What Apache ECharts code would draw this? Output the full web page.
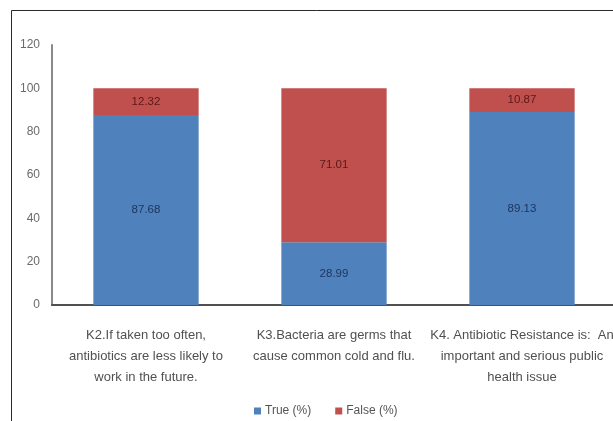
<!DOCTYPE html>
<html>
<head>
<meta charset="utf-8">
<script src="https://cdn.jsdelivr.net/npm/echarts@6/dist/echarts.min.js"></script>
<style>
  html, body { margin: 0; padding: 0; background: #fff; overflow: hidden; }
  #chart { width: 620px; height: 421px; }
</style>
</head>
<body>
<div id="chart"></div>
<script>
// Knowledge statements (line breaks follow the wrapped axis labels)
const categories = [
  'K2.If taken too often,\nantibiotics are less likely to\nwork in the future.',
  'K3.Bacteria are germs that\ncause common cold and flu.',
  'K4. Antibiotic Resistance is:  An\nimportant and serious public\nhealth issue'
];
const trueValues = [87.68, 28.99, 89.13];
const falseValues = [12.32, 71.01, 10.87];
const seriesNames = ['True (%)', 'False (%)'];
const yTicks = { min: 0, max: 120, interval: 20 };

const chart = echarts.init(document.getElementById('chart'), null, { renderer: 'canvas' });

const labelFont = '"Liberation Sans", Arial, sans-serif';

chart.setOption({
  animation: false,
  textStyle: { fontFamily: labelFont },
  graphic: [{
    type: 'rect',
    silent: true,
    shape: { x: 11.5, y: 10.5, width: 800, height: 600 },
    style: { fill: 'none', stroke: '#2a2a2a', lineWidth: 1 }
  }],
  grid: { left: 52, right: 4, top: 45, bottom: 116, containLabel: false },
  legend: {
    data: seriesNames,
    left: 249,
    top: 400,
    itemWidth: 7,
    itemHeight: 7,
    itemGap: 24,
    icon: 'rect',
    textStyle: { fontSize: 12, color: '#555', fontFamily: labelFont, padding: [0, 0, 0, -1] }
  },
  xAxis: {
    type: 'category',
    data: categories,
    axisLine: { lineStyle: { color: '#505050', width: 2 } },
    axisTick: { show: false },
    axisLabel: {
      interval: 0,
      margin: 20,
      fontSize: 13,
      lineHeight: 21,
      color: '#505050',
      fontFamily: labelFont
    }
  },
  yAxis: {
    type: 'value',
    min: yTicks.min,
    max: yTicks.max,
    interval: yTicks.interval,
    splitLine: { show: false },
    axisTick: { show: false },
    axisLine: { show: true, lineStyle: { color: '#8a8a8a', width: 2 } },
    axisLabel: { fontSize: 12, color: '#6a6a6a', margin: 12, fontFamily: labelFont }
  },
  series: [
    {
      name: seriesNames[0],
      type: 'bar',
      stack: 'total',
      data: trueValues,
      barWidth: '56%',
      itemStyle: { color: '#4f81bd' },
      label: {
        show: true,
        position: 'inside',
        color: '#1f3560',
        fontSize: 11.5,
        formatter: p => p.value.toFixed(2)
      }
    },
    {
      name: seriesNames[1],
      type: 'bar',
      stack: 'total',
      data: falseValues,
      barWidth: '56%',
      itemStyle: { color: '#c0504d' },
      label: {
        show: true,
        position: 'inside',
        color: '#5a1818',
        fontSize: 11.5,
        formatter: p => p.value.toFixed(2)
      }
    }
  ]
});
</script>
</body>
</html>
